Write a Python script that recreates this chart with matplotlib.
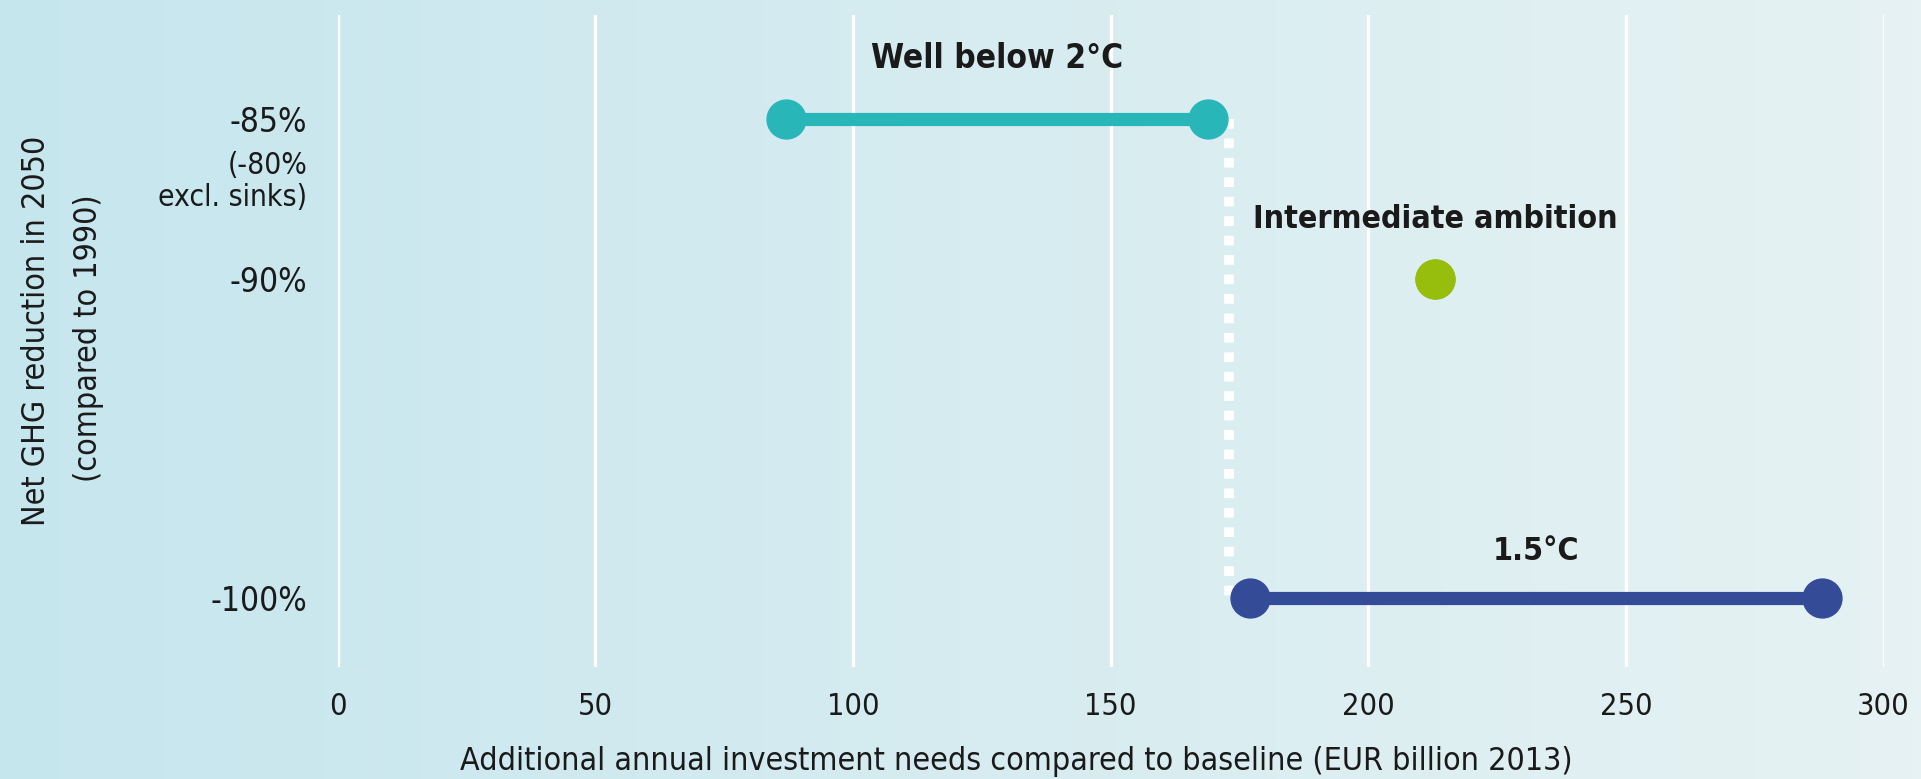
import numpy as np
import matplotlib
matplotlib.use("Agg")
import matplotlib.pyplot as plt
from matplotlib.colors import LinearSegmentedColormap

plt.rcParams['font.family'] = ['DejaVu Sans']
plt.rcParams['font.stretch'] = 'condensed'

# scenarios: range of additional investment (EUR bn) at each GHG reduction level
scenarios = ["Well below 2°C", "Intermediate ambition", "1.5°C"]
reduction = [-85, -90, -100]
invest_low = [87, 213, 177]
invest_high = [169, 213, 288]
colors = ["#29b6b8", "#97bd0d", "#344b98"]

ytick_vals = [-85, -90, -100]
ytick_labels = ["-85%", "-90%", "-100%"]
xticks = [0, 50, 100, 150, 200, 250, 300]

fig = plt.figure(figsize=(19.21, 7.79), dpi=100)

# soft left-to-right background gradient over the whole figure
bg = fig.add_axes([0, 0, 1, 1], zorder=-10)
grad = np.linspace(0, 1, 256).reshape(1, -1)
cmap = LinearSegmentedColormap.from_list("bg", ["#c6e6ee", "#e6f2f3"])
bg.imshow(grad, aspect="auto", cmap=cmap, extent=[0, 1, 0, 1])
bg.axis("off")

ax = fig.add_axes([0.1757, 0.1438, 0.8048, 0.8369])
ax.patch.set_alpha(0)
ax.set_xlim(0, 300)
ax.set_ylim(-102.16, -81.74)

ax.set_xticks(xticks)
ax.grid(axis="x", color="white", linewidth=2.4)
ax.set_axisbelow(True)
for s in ax.spines.values():
    s.set_visible(False)
ax.tick_params(length=0, labelsize=22, colors="#1a1a1a")
ax.tick_params(axis="x", pad=18)
ax.tick_params(axis="y", pad=22, labelsize=24)
ax.set_yticks(ytick_vals)
ax.set_yticklabels(ytick_labels)

# connector between the two pathways
x_link = (invest_high[0] + invest_low[2]) / 2
ax.plot([x_link, x_link], [reduction[0], reduction[2]], color="white",
        linewidth=7, linestyle=(0, (1, 1)), zorder=2)

for name, y, lo, hi, c in zip(scenarios, reduction, invest_low, invest_high, colors):
    ax.plot([lo, hi], [y, y], color=c, linewidth=9.5, marker="o",
            markersize=28, zorder=3, clip_on=False)

label_offset = [1.9, 1.87, 1.46]
label_size = [24, 23, 23]
for name, y, lo, hi, off, fs in zip(scenarios, reduction, invest_low, invest_high,
                                    label_offset, label_size):
    ax.text((lo + hi) / 2, y + off, name, ha="center", va="center",
            fontsize=fs, fontweight="bold", color="#1a1a1a")

ax.text(-0.0195, -86.95, "(-80%\nexcl. sinks)", transform=ax.get_yaxis_transform(),
        ha="right", va="center", fontsize=21.5, color="#1a1a1a", linespacing=1.15)

fig.text(0.529, 0.022, "Additional annual investment needs compared to baseline (EUR billion 2013)",
         ha="center", va="center", fontsize=23, color="#1a1a1a")
fig.text(0.0191, 0.575, "Net GHG reduction in 2050", rotation=90,
         ha="center", va="center", fontsize=23, color="#1a1a1a")
fig.text(0.0459, 0.566, "(compared to 1990)", rotation=90,
         ha="center", va="center", fontsize=23, color="#1a1a1a")

fig.savefig("out.png", dpi=100)
